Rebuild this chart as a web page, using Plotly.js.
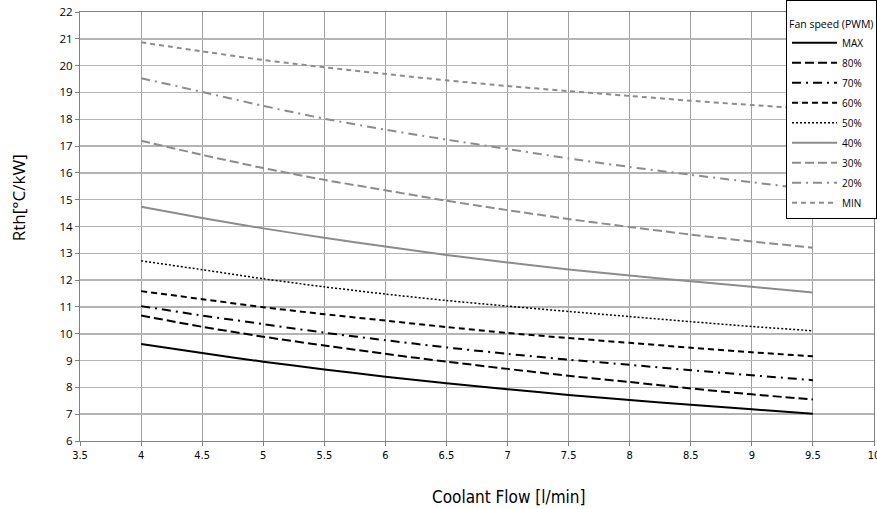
<!DOCTYPE html>
<html>
<head>
<meta charset="utf-8">
<script src="https://cdn.plot.ly/plotly-3.0.1.min.js"></script>
<style>html,body{margin:0;padding:0;background:#fff;overflow:hidden;}#chart{width:877px;height:509px;}</style>
</head>
<body>
<div id="chart"></div>
<script>
const flow = [4, 4.5, 5, 5.5, 6, 6.5, 7, 7.5, 8, 8.5, 9, 9.5];
const seriesNames = ["MAX", "80%", "70%", "60%", "50%", "40%", "30%", "20%", "MIN"];
const rthMAX = [9.62, 9.28, 8.96, 8.67, 8.40, 8.15, 7.93, 7.72, 7.53, 7.35, 7.18, 7.02];
const rth80 = [10.68, 10.26, 9.89, 9.56, 9.25, 8.96, 8.69, 8.43, 8.20, 7.96, 7.74, 7.55];
const rth70 = [11.03, 10.68, 10.36, 10.04, 9.76, 9.49, 9.25, 9.03, 8.84, 8.64, 8.45, 8.27];
const rth60 = [11.59, 11.29, 10.99, 10.73, 10.49, 10.25, 10.03, 9.84, 9.66, 9.48, 9.31, 9.16];
const rth50 = [12.72, 12.39, 12.05, 11.75, 11.48, 11.24, 11.03, 10.83, 10.64, 10.45, 10.27, 10.11];
const rth40 = [14.74, 14.32, 13.93, 13.58, 13.25, 12.94, 12.66, 12.40, 12.17, 11.96, 11.75, 11.54];
const rth30 = [17.20, 16.67, 16.18, 15.74, 15.35, 14.96, 14.61, 14.28, 13.98, 13.70, 13.44, 13.21];
const rth20 = [19.53, 19.02, 18.50, 18.02, 17.61, 17.24, 16.89, 16.54, 16.22, 15.93, 15.65, 15.38];
const rthMIN = [20.87, 20.53, 20.21, 19.94, 19.69, 19.45, 19.24, 19.05, 18.87, 18.69, 18.53, 18.38];
const xTickVals = [3.5, 4, 4.5, 5, 5.5, 6, 6.5, 7, 7.5, 8, 8.5, 9, 9.5, 10];
const yTickVals = [6,7,8,9,10,11,12,13,14,15,16,17,18,19,20,21,22];

const allY = [rthMAX, rth80, rth70, rth60, rth50, rth40, rth30, rth20, rthMIN];
const black = '#000000', gray = '#8c8c8c';
const styles = [
  {color: black, dash: 'solid', width: 2},
  {color: black, dash: '9px,4px', width: 2},
  {color: black, dash: '9px,5px,2px,5px', width: 2},
  {color: black, dash: '6px,4px', width: 2},
  {color: black, dash: '2px,2px', width: 1.5},
  {color: gray, dash: 'solid', width: 2},
  {color: gray, dash: '9px,4px', width: 2},
  {color: gray, dash: '9px,5px,2px,5px', width: 2},
  {color: gray, dash: '5px,4px', width: 2}
];

const traces = seriesNames.map((n, i) => ({
  x: flow, y: allY[i], name: n, type: 'scatter', mode: 'lines',
  legendgroup: 'g' + i,
  line: Object.assign({shape: 'spline', smoothing: 0.6}, styles[i])
}));

const layout = {
  width: 877, height: 509,
  margin: {l: 80, r: 3, t: 12, b: 68, autoexpand: false},
  paper_bgcolor: '#ffffff', plot_bgcolor: '#ffffff',
  font: {family: 'Open Sans, sans-serif', color: '#000'},
  showlegend: true,
  legend: {
    xref: 'container', yref: 'container',
    x: 1.004, xanchor: 'right', y: 1.0, yanchor: 'top',
    bgcolor: '#ffffff', bordercolor: '#000000', borderwidth: 1,
    font: {size: 10, family: 'Open Sans, sans-serif', color: '#000'},
    title: {text: '<br>Fan speed (PWM)', font: {size: 10.5, family: 'Open Sans, sans-serif'}},
    itemwidth: 45, traceorder: 'grouped', tracegroupgap: 1
  },
  xaxis: {
    range: [3.5, 10], tickvals: xTickVals, ticktext: xTickVals.map(String),
    showgrid: true, gridcolor: '#a0a0a0', gridwidth: 1,
    showline: true, linecolor: '#808080', linewidth: 1, mirror: true,
    ticks: 'outside', ticklen: 4, tickcolor: '#808080',
    tickfont: {size: 11, family: 'DejaVu Sans Condensed, sans-serif'},
    ticklabeloverflow: 'allow',
    zeroline: false, automargin: false
  },
  yaxis: {
    range: [6, 22], tickvals: yTickVals,
    showgrid: true, gridcolor: '#b4b4b4', gridwidth: 1.5,
    showline: true, linecolor: '#808080', linewidth: 1, mirror: true,
    ticks: 'outside', ticklen: 4, tickcolor: '#808080',
    tickfont: {size: 11.5, family: 'Open Sans, sans-serif'},
    zeroline: false, automargin: false
  },
  annotations: [
    {text: 'Coolant Flow [l/min]', xref: 'paper', yref: 'paper', x: 0.54, y: -0.13,
     xanchor: 'center', yanchor: 'middle', showarrow: false,
     font: {size: 17, family: 'DejaVu Sans Condensed, sans-serif', color: '#000'}},
    {text: 'Rth[°C/kW]', xref: 'paper', yref: 'paper', x: -0.078, y: 0.566,
     xanchor: 'center', yanchor: 'middle', showarrow: false, textangle: -90,
     font: {size: 17, family: 'Open Sans, sans-serif', color: '#000'}}
  ]
};

Plotly.newPlot('chart', traces, layout, {displayModeBar: false, staticPlot: true});
</script>
</body>
</html>
